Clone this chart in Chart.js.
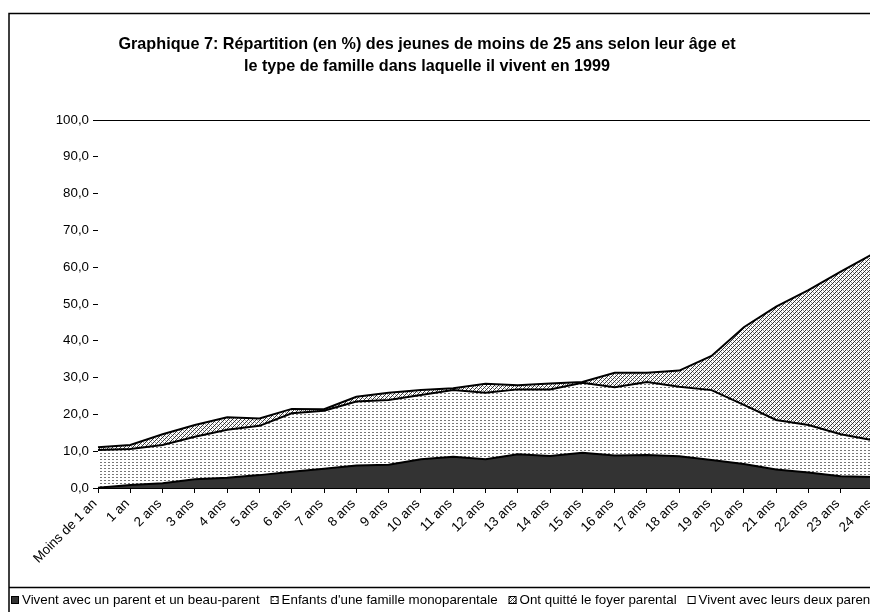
<!DOCTYPE html>
<html><head><meta charset="utf-8">
<script src="https://cdn.jsdelivr.net/npm/chart.js@4"></script>
<style>html,body{margin:0;padding:0;overflow:hidden;background:#fff;width:870px;height:612px}canvas{display:block}</style>
</head><body><canvas id="c" width="880" height="612"></canvas>
<script>
const categories = ["Moins de 1 an","1 an","2 ans","3 ans","4 ans","5 ans","6 ans","7 ans","8 ans","9 ans","10 ans","11 ans","12 ans","13 ans","14 ans","15 ans","16 ans","17 ans","18 ans","19 ans","20 ans","21 ans","22 ans","23 ans","24 ans"];
const beauParent = [0.1,0.8,1.3,2.4,2.8,3.5,4.4,5.2,6.1,6.3,7.8,8.5,7.8,9.2,8.7,9.6,8.8,9.0,8.6,7.6,6.5,5.0,4.2,3.2,3.0];
const monoparentale = [10.2,9.8,10.4,11.5,13.0,13.4,15.9,15.8,17.4,17.6,17.5,18.1,18.1,17.6,18.1,19.0,18.6,19.8,18.9,19.0,16.1,13.5,12.9,11.4,10.0];
const quitte = [0.8,1.1,2.9,3.2,3.4,2.0,1.2,0.4,1.3,2.0,1.3,0.5,2.4,1.1,1.6,0.2,3.9,2.5,4.4,9.3,21.1,30.8,36.7,44.2,50.6];
const deuxParents = [88.9,88.3,85.4,82.9,80.8,81.1,78.5,78.6,75.2,74.1,73.4,72.9,71.7,72.1,71.6,71.2,68.7,68.7,68.1,64.1,56.3,50.7,46.2,41.2,36.4];
const seriesNames = ["Vivent avec un parent et un beau-parent","Enfants d'une famille monoparentale","Ont quitté le foyer parental","Vivent avec leurs deux parents"];
const yTickValues = [0,10,20,30,40,50,60,70,80,90,100];
const titleLines = ["Graphique 7: Répartition (en %) des jeunes de moins de 25 ans selon leur âge et","le type de famille dans laquelle il vivent en 1999"];

function makePattern(w,h,draw){
  const c=document.createElement('canvas');c.width=w;c.height=h;
  const x=c.getContext('2d');x.fillStyle='#fff';x.fillRect(0,0,w,h);draw(x);
  return x.createPattern(c,'repeat');
}
const dotPat = makePattern(4,3,x=>{x.fillStyle='#777777';x.fillRect(0,0,2,1);});
const hatchPat = makePattern(4,4,x=>{x.fillStyle='#333333';x.fillRect(3,0,1,1);x.fillRect(2,1,1,1);x.fillRect(1,2,1,1);x.fillRect(0,3,1,1);x.fillStyle='#999999';x.fillRect(1,0,1,1);x.fillRect(3,2,1,1);});
const fills = ['#333333', dotPat, hatchPat, '#ffffff'];

const FONT = '"Liberation Sans", Arial, sans-serif';
const FS = 13.33;

const decor = {
  id:'decor',
  afterDraw(chart){
    const ctx=chart.ctx;
    ctx.save();
    ctx.strokeStyle='#000';ctx.lineWidth=1.5;
    ctx.beginPath();
    ctx.moveTo(9,612);ctx.lineTo(9,13.5);ctx.lineTo(880,13.5);
    ctx.moveTo(9,587.5);ctx.lineTo(880,587.5);
    ctx.stroke();
    ctx.fillStyle='#000';ctx.font='bold 16.2px '+FONT;ctx.textAlign='center';ctx.textBaseline='middle';
    ctx.fillText(titleLines[0],427,45);
    ctx.fillText(titleLines[1],427,67);
    ctx.font=FS+'px '+FONT;ctx.textAlign='left';ctx.textBaseline='middle';
    let x=11;
    const y=600;
    seriesNames.forEach((name,i)=>{
      ctx.fillStyle=fills[i];
      ctx.fillRect(x,y-4,8,8);
      ctx.strokeStyle='#000';ctx.lineWidth=1;
      ctx.strokeRect(x+0.5,y-3.5,7,7);
      x+=11;
      ctx.fillStyle='#000';
      ctx.fillText(name,x,y);
      x+=ctx.measureText(name).width+11;
    });
    ctx.restore();
  }
};

const seriesData=[beauParent,monoparentale,quitte,deuxParents];
new Chart(document.getElementById('c'),{
  type:'line',
  data:{labels:categories,datasets:seriesData.map((d,i)=>({
    label:seriesNames[i],data:d,backgroundColor:fills[i],borderColor:'#000',borderWidth:2,
    pointRadius:0,tension:0,fill:i===0?'origin':'-1'
  }))},
  options:{
    responsive:false,animation:false,devicePixelRatio:1,
    layout:{padding:{top:120,left:0,right:7,bottom:0}},
    plugins:{legend:{display:false},title:{display:false},tooltip:{enabled:false}},
    scales:{
      x:{
        offset:false,
        grid:{drawOnChartArea:false,drawTicks:true,tickLength:5,color:'#000'},
        border:{display:true,color:'#000',width:1},
        ticks:{autoSkip:false,minRotation:45,maxRotation:45,color:'#000',font:{family:FONT,size:FS},padding:3,labelOffset:-3},
        afterFit(s){s.height=124;s.paddingLeft=0;s.paddingRight=0;}
      },
      y:{
        stacked:true,min:0,max:100,
        afterBuildTicks(s){s.ticks=yTickValues.map(v=>({value:v}));},
        grid:{drawOnChartArea:false,drawTicks:true,tickLength:5,color:'#000'},
        border:{display:true,color:'#000',width:1},
        ticks:{color:'#000',font:{family:FONT,size:FS},padding:4,callback:v=>v.toFixed(1).replace('.',',')},
        afterFit(s){s.width=98;}
      }
    }
  },
  plugins:[decor]
});
</script></body></html>
